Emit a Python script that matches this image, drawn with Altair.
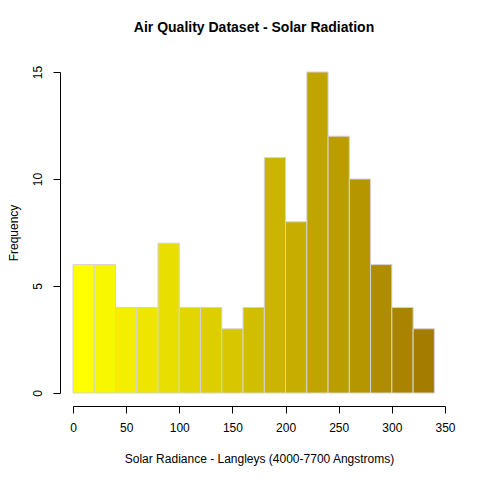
import altair as alt
import pandas as pd

# histogram of Solar.R, breaks every 20 langleys
bin_start = [0, 20, 40, 60, 80, 100, 120, 140, 160, 180, 200, 220, 240, 260, 280, 300, 320]
bin_end = [20, 40, 60, 80, 100, 120, 140, 160, 180, 200, 220, 240, 260, 280, 300, 320, 340]
counts = [6, 6, 4, 4, 7, 4, 4, 3, 4, 11, 8, 15, 12, 10, 6, 4, 3]
x_ticks = [0, 50, 100, 150, 200, 250, 300, 350]
y_ticks = [0, 5, 10, 15]

df = pd.DataFrame({"start": bin_start, "end": bin_end, "count": counts})

font = "Liberation Sans"

bars = alt.Chart(df).mark_rect(stroke="#d3d3d3", strokeWidth=1).encode(
    x=alt.X("start:Q",
            scale=alt.Scale(domain=[0, 350], nice=False, zero=False),
            axis=alt.Axis(values=x_ticks, title="Solar Radiance - Langleys (4000-7700 Angstroms)",
                          grid=False, offset=13, tickSize=7, labelPadding=9,
                          titlePadding=20, labelFlush=False)),
    x2="end:Q",
    y=alt.Y("count:Q",
            scale=alt.Scale(domain=[0, 15], nice=False),
            axis=alt.Axis(values=y_ticks, title="Frequency", grid=False, offset=13,
                          tickSize=7, labelAngle=270, labelAlign="center",
                          labelBaseline="bottom", labelPadding=9, titlePadding=11,
                          labelFlush=False)),
    y2=alt.datum(0),
    color=alt.Color("start:Q",
                    scale=alt.Scale(domain=[0, 320], range=["#ffff00", "#a47c00"],
                                    interpolate="rgb"),
                    legend=None),
)

chart = bars.properties(
    width=372,
    height=321,
    autosize=alt.AutoSizeParams(type="none"),
    padding={"left": 65, "top": 64, "right": 27, "bottom": 79},
    title=alt.Title("Air Quality Dataset - Solar Radiation", fontSize=14, font=font,
                    fontWeight="bold", offset=30, dx=-5, color="black"),
).configure_view(
    stroke=None
).configure_axis(
    labelFont=font, titleFont=font, labelFontSize=12, titleFontSize=12,
    titleFontWeight="normal", labelColor="black", titleColor="black",
    domainColor="black", tickColor="black", domainWidth=1, tickWidth=1,
)

chart.save("out.html", embed_options={"renderer": "svg", "actions": False})
